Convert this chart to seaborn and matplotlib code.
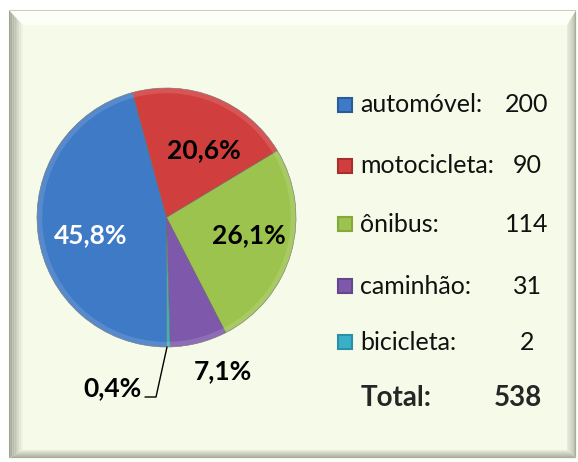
import numpy as np
import matplotlib
matplotlib.use('Agg')
import matplotlib.pyplot as plt
import seaborn as sns
from matplotlib.patches import Rectangle, Polygon

# dados do gráfico
categorias = ['automóvel', 'motocicleta', 'ônibus', 'caminhão', 'bicicleta']
valores = [200, 90, 114, 31, 2]
rotulos_pct = ['45,8%', '20,6%', '26,1%', '7,1%', '0,4%']
total_txt = '538'

cores = ['#3F7AC6', '#D03F3E', '#9CC34E', '#7E59AB', '#3AAFC8']
cores_leg = ['#2A5A9C', '#A82E2D', '#84A83A', '#65468E', '#2A8FA8']

sns.set_theme(style='white')
plt.rcParams['font.family'] = ['Lato', 'DejaVu Sans']

W, H = 578, 462
fig = plt.figure(figsize=(W / 100, H / 100), dpi=100)
fig.patch.set_facecolor('white')

def fx(x):
    return x / W

def fy(y):
    return 1 - y / H

fundo = '#F5FAE9'

# moldura com bisel
x0, y0, x1, y1 = 9, 10, 576, 458
fig.patches.append(Rectangle((fx(x0), fy(y1)), fx(x1) - fx(x0), fy(y0) - fy(y1),
                             transform=fig.transFigure, color=fundo, zorder=-2))

def faixa(pts, cor):
    fig.patches.append(Polygon([(fx(a), fy(b)) for a, b in pts], closed=True,
                               transform=fig.transFigure, color=cor, lw=0, zorder=-1))

bl, bt, br, bb = 14, 15, 9, 8
n = 8
c_esq_a = np.array([0.62, 0.64, 0.58])
c_esq_b = np.array([0.93, 0.95, 0.89])
c_dir_a = np.array([0.66, 0.68, 0.62])
c_dir_b = np.array([0.90, 0.92, 0.86])
for i in range(n):
    t0, t1 = i / n, (i + 1) / n
    c = c_esq_a + (c_esq_b - c_esq_a) * (i / (n - 1))
    # esquerda
    faixa([(x0 + bl * t0, y0 + bt * t0), (x0 + bl * t1, y0 + bt * t1),
           (x0 + bl * t1, y1 - bb * t1), (x0 + bl * t0, y1 - bb * t0)], c)
    c2 = c_dir_a + (c_dir_b - c_dir_a) * (i / (n - 1))
    # direita
    faixa([(x1 - br * t0, y0 + bt * t0), (x1 - br * t1, y0 + bt * t1),
           (x1 - br * t1, y1 - bb * t1), (x1 - br * t0, y1 - bb * t0)], c2)
    # baixo
    faixa([(x0 + bl * t0, y1 - bb * t0), (x1 - br * t0, y1 - bb * t0),
           (x1 - br * t1, y1 - bb * t1), (x0 + bl * t1, y1 - bb * t1)], c2)
# topo claro
faixa([(x0, y0), (x1, y0), (x1 - br, y0 + bt), (x0 + bl, y0 + bt)], '#FCFEF7')
faixa([(x0, y0), (x1, y0), (x1, y0 + 1), (x0, y0 + 1)], '#C9CDBF')

# pizza
cx, cy, r = 166.5, 217.5, 129.5
ax = fig.add_axes([fx(cx - r), fy(cy + r), 2 * r / W, 2 * r / H])
ax.set_zorder(5)
ax.set_facecolor('none')
wedges, _ = ax.pie(valores, colors=cores, startangle=270, counterclock=False,
                   radius=1, wedgeprops=dict(edgecolor='#6a6a6a', linewidth=0.4))
# borda clara (efeito de bisel)
ax.pie(valores, colors=['white'] * len(valores), startangle=270, counterclock=False,
       radius=1, wedgeprops=dict(width=0.04, alpha=0.12, linewidth=0))
ax.set_xlim(-1, 1)
ax.set_ylim(-1, 1)
ax.set_aspect('auto')
ax.axis('off')

def pdata(px, py):
    return (px - cx) / r, (cy - py) / r

pos_rot = [(91, 235), (204, 150), (249, 235), (223, 371), (112, 388)]
cor_rot = ['white', 'black', 'black', 'black', 'black']
for txt, (px, py), c in zip(rotulos_pct, pos_rot, cor_rot):
    xd, yd = pdata(px, py)
    ax.text(xd, yd, txt, ha='center', va='center', fontsize=19,
            fontweight='bold', color=c, clip_on=False)

# linha guia do 0,4%
lx = [pdata(167, 347)[0], pdata(156, 397)[0], pdata(145, 397)[0]]
ly = [pdata(167, 347)[1], pdata(156, 397)[1], pdata(145, 397)[1]]
ax.plot(lx, ly, color='black', lw=1.0, clip_on=False)

# legenda
linhas_y = [105, 166, 224, 286, 342]
for cat, v, c, ce, yy in zip(categorias, valores, cores, cores_leg, linhas_y):
    fig.patches.append(Rectangle((fx(338), fy(yy + 7)), 14 / W, 14 / H,
                                 transform=fig.transFigure, facecolor=c,
                                 edgecolor=ce, lw=1.5, zorder=3))
    fig.text(fx(360), fy(yy), cat + ':', ha='left', va='center', fontsize=18, color='#111111')
    fig.text(fx(527), fy(yy), str(v), ha='center', va='center', fontsize=18, color='#111111')

fig.text(fx(361), fy(398), 'Total:', ha='left', va='center', fontsize=20, fontweight='bold')
fig.text(fx(518), fy(398), total_txt, ha='center', va='center', fontsize=20, fontweight='bold')

fig.savefig('out.png', dpi=100)
